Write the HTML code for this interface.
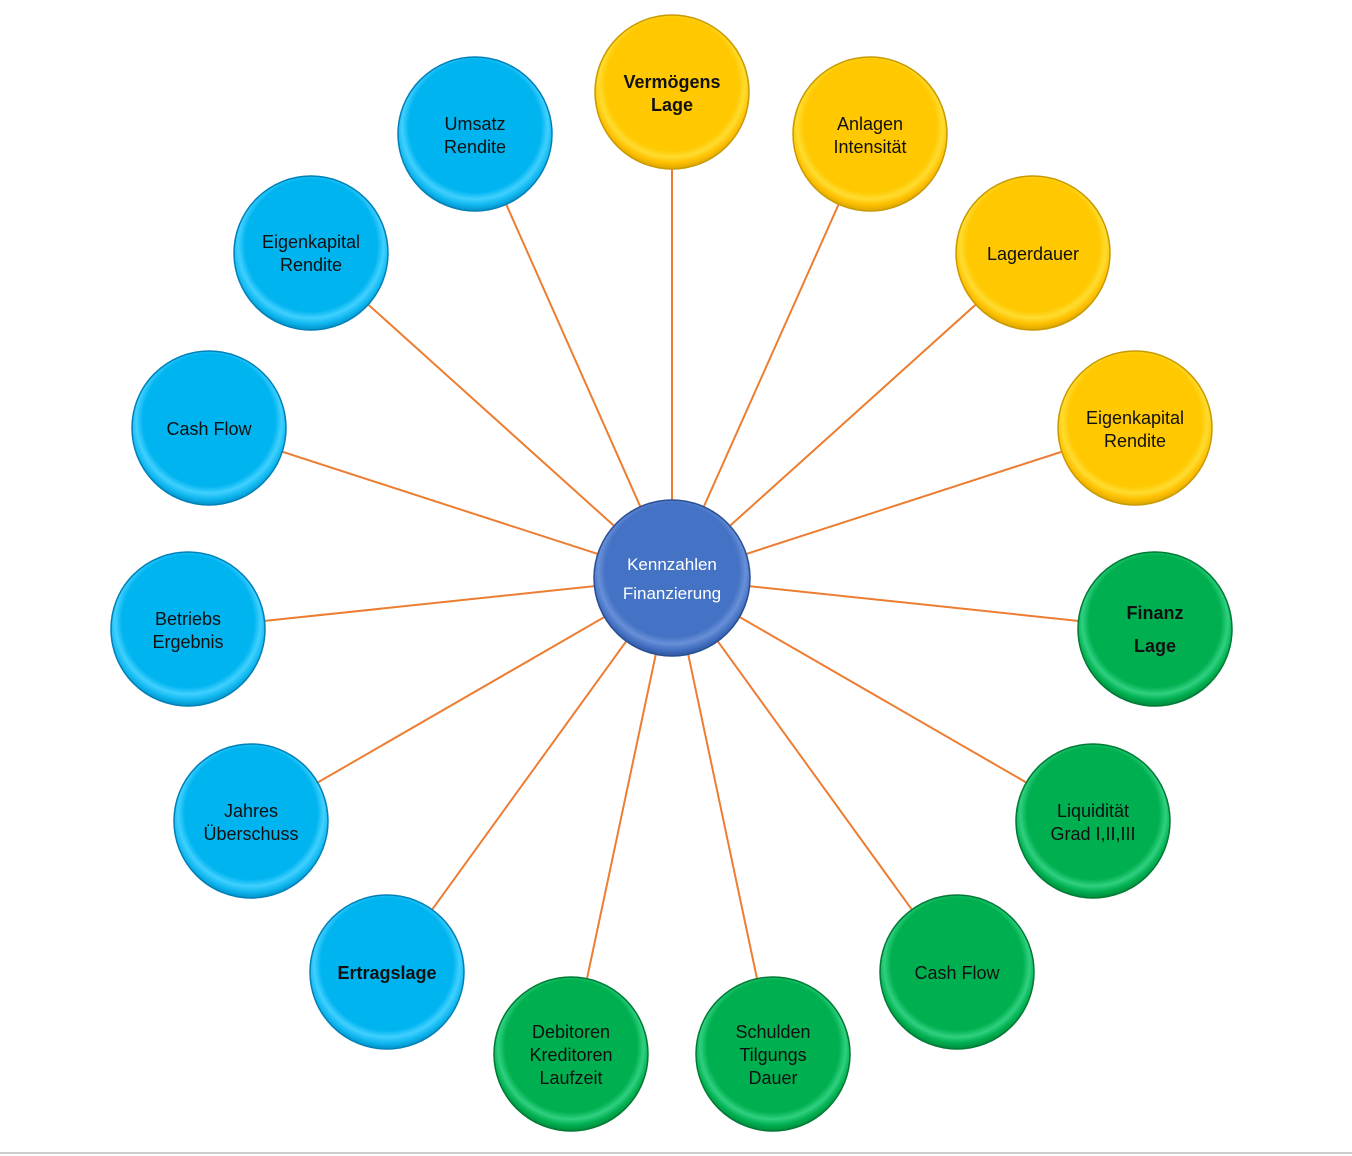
<!DOCTYPE html>
<html><head><meta charset="utf-8"><style>
html,body{margin:0;padding:0;background:#fff}
svg{display:block}
text{font-family:"Liberation Sans","DejaVu Sans",sans-serif;font-size:18px;text-anchor:middle;fill:#111}
</style></head><body>
<svg width="1352" height="1156" viewBox="0 0 1352 1156" xmlns="http://www.w3.org/2000/svg">
<defs>
<radialGradient id="gy" cx="50%" cy="45%" r="55%"><stop offset="0.78" stop-color="#ffc800"/><stop offset="0.86" stop-color="#ffdc30"/><stop offset="0.93" stop-color="#ffc000"/><stop offset="1" stop-color="#d9a500"/></radialGradient>
<radialGradient id="gb" cx="50%" cy="45%" r="55%"><stop offset="0.78" stop-color="#00b4f0"/><stop offset="0.86" stop-color="#40d0ff"/><stop offset="0.93" stop-color="#10b8f0"/><stop offset="1" stop-color="#0090c8"/></radialGradient>
<radialGradient id="gg" cx="50%" cy="45%" r="55%"><stop offset="0.78" stop-color="#00b050"/><stop offset="0.86" stop-color="#30d080"/><stop offset="0.93" stop-color="#00b050"/><stop offset="1" stop-color="#008a3c"/></radialGradient>
<radialGradient id="gc" cx="50%" cy="45%" r="55%"><stop offset="0.78" stop-color="#4472c4"/><stop offset="0.86" stop-color="#6890d8"/><stop offset="0.93" stop-color="#4472c4"/><stop offset="1" stop-color="#2f56a0"/></radialGradient>
</defs>
<line x1="0" y1="1153" x2="1352" y2="1153" stroke="#ccc" stroke-width="2"/>
<g stroke="#ed7d31" stroke-width="2">
<line x1="672" y1="578" x2="672" y2="92"/><line x1="672" y1="578" x2="870" y2="134"/><line x1="672" y1="578" x2="1033" y2="253"/><line x1="672" y1="578" x2="1135" y2="428"/><line x1="672" y1="578" x2="1155" y2="629"/><line x1="672" y1="578" x2="1093" y2="821"/><line x1="672" y1="578" x2="957" y2="972"/><line x1="672" y1="578" x2="773" y2="1054"/><line x1="672" y1="578" x2="571" y2="1054"/><line x1="672" y1="578" x2="387" y2="972"/><line x1="672" y1="578" x2="251" y2="821"/><line x1="672" y1="578" x2="188" y2="629"/><line x1="672" y1="578" x2="209" y2="428"/><line x1="672" y1="578" x2="311" y2="253"/><line x1="672" y1="578" x2="475" y2="134"/>
</g>
<g>
<g stroke="#c89a00" stroke-width="1.5">
<circle cx="672" cy="92" r="77" fill="url(#gy)"/><circle cx="870" cy="134" r="77" fill="url(#gy)"/><circle cx="1033" cy="253" r="77" fill="url(#gy)"/><circle cx="1135" cy="428" r="77" fill="url(#gy)"/>
</g>
<g stroke="#007a34" stroke-width="1.5">
<circle cx="1155" cy="629" r="77" fill="url(#gg)"/><circle cx="1093" cy="821" r="77" fill="url(#gg)"/><circle cx="957" cy="972" r="77" fill="url(#gg)"/><circle cx="773" cy="1054" r="77" fill="url(#gg)"/><circle cx="571" cy="1054" r="77" fill="url(#gg)"/>
</g>
<g stroke="#0080b8" stroke-width="1.5">
<circle cx="387" cy="972" r="77" fill="url(#gb)"/><circle cx="251" cy="821" r="77" fill="url(#gb)"/><circle cx="188" cy="629" r="77" fill="url(#gb)"/><circle cx="209" cy="428" r="77" fill="url(#gb)"/><circle cx="311" cy="253" r="77" fill="url(#gb)"/><circle cx="475" cy="134" r="77" fill="url(#gb)"/>
</g>
<circle cx="672" cy="578" r="78" fill="url(#gc)" stroke="#2a4e94" stroke-width="1.5"/>
</g>
<text x="672" y="88" font-weight="bold">Vermögens</text><text x="672" y="111" font-weight="bold">Lage</text>
<text x="870" y="130">Anlagen</text><text x="870" y="153">Intensität</text>
<text x="1033" y="260">Lagerdauer</text>
<text x="1135" y="424">Eigenkapital</text><text x="1135" y="447">Rendite</text>
<text x="1155" y="619" font-weight="bold">Finanz</text><text x="1155" y="652" font-weight="bold">Lage</text>
<text x="1093" y="817">Liquidität</text><text x="1093" y="840">Grad I,II,III</text>
<text x="957" y="979">Cash Flow</text>
<text x="773" y="1038">Schulden</text><text x="773" y="1061">Tilgungs</text><text x="773" y="1084">Dauer</text>
<text x="571" y="1038">Debitoren</text><text x="571" y="1061">Kreditoren</text><text x="571" y="1084">Laufzeit</text>
<text x="387" y="979" font-weight="bold">Ertragslage</text>
<text x="251" y="817">Jahres</text><text x="251" y="840">Überschuss</text>
<text x="188" y="625">Betriebs</text><text x="188" y="648">Ergebnis</text>
<text x="209" y="435">Cash Flow</text>
<text x="311" y="248">Eigenkapital</text><text x="311" y="271">Rendite</text>
<text x="475" y="130">Umsatz</text><text x="475" y="153">Rendite</text>
<text x="672" y="570" style="fill:#fff;font-size:17px">Kennzahlen</text><text x="672" y="599" style="fill:#fff;font-size:17px">Finanzierung</text>
</svg>
</body></html>
